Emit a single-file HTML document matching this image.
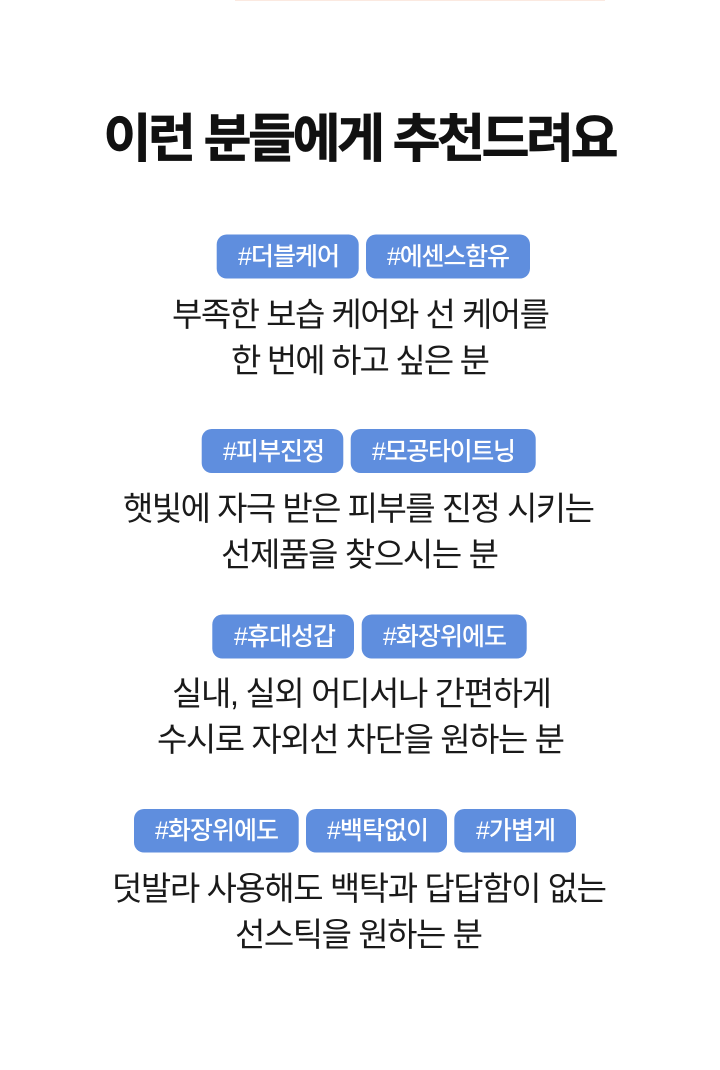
<!DOCTYPE html>
<html lang="ko"><head><meta charset="utf-8">
<style>
html,body{margin:0;padding:0;background:#fff;width:720px;height:1070px;overflow:hidden}
svg{display:block}
text{font-family:"Liberation Sans","Noto Sans CJK KR",sans-serif}
.t{font-size:52px;font-weight:700;fill:#111;stroke:#111;stroke-width:.7px}
.p{font-size:25px;font-weight:500;fill:#fff}
.b{font-size:33px;font-weight:400;fill:#1a1a1a}
rect.r{fill:#5f8ede}
</style></head><body>
<svg width="720" height="1070" viewBox="0 0 720 1070" xmlns="http://www.w3.org/2000/svg">
<rect x="235" y="0" width="370" height="1" fill="#fbe9e0"/>
<text class="t" x="103.500" y="157" textLength="515" lengthAdjust="spacing">이런 분들에게 추천드려요</text>

<rect class="r" x="216.700" y="234.500" width="142" height="44" rx="10"/>
<rect class="r" x="366" y="234.500" width="164" height="44" rx="10"/>
<text class="p" x="238" y="265" textLength="102" lengthAdjust="spacing">#더블케어</text>
<text class="p" x="387" y="265" textLength="123" lengthAdjust="spacing">#에센스함유</text>
<text class="b" x="172" y="326" textLength="378" lengthAdjust="spacing">부족한 보습 케어와 선 케어를</text>
<text class="b" x="231" y="372" textLength="259" lengthAdjust="spacing">한 번에 하고 싶은 분</text>

<rect class="r" x="201.700" y="429" width="141.600" height="44" rx="10"/>
<rect class="r" x="350.700" y="429" width="185" height="44" rx="10"/>
<text class="p" x="223" y="460" textLength="102" lengthAdjust="spacing">#피부진정</text>
<text class="p" x="372" y="460" textLength="144" lengthAdjust="spacing">#모공타이트닝</text>
<text class="b" x="123" y="520" textLength="472" lengthAdjust="spacing">햇빛에 자극 받은 피부를 진정 시키는</text>
<text class="b" x="221" y="566" textLength="278" lengthAdjust="spacing">선제품을 찾으시는 분</text>

<rect class="r" x="212.300" y="614.500" width="141.700" height="44" rx="10"/>
<rect class="r" x="361.700" y="614.500" width="165" height="44" rx="10"/>
<text class="p" x="234" y="645" textLength="102" lengthAdjust="spacing">#휴대성갑</text>
<text class="p" x="383" y="645" textLength="124" lengthAdjust="spacing">#화장위에도</text>
<text class="b" x="172" y="705" textLength="380" lengthAdjust="spacing">실내, 실외 어디서나 간편하게</text>
<text class="b" x="157" y="751" textLength="408" lengthAdjust="spacing">수시로 자외선 차단을 원하는 분</text>

<rect class="r" x="134" y="809" width="164.700" height="43.500" rx="10"/>
<rect class="r" x="306" y="809" width="141" height="43.500" rx="10"/>
<rect class="r" x="454.300" y="809" width="121.700" height="43.500" rx="10"/>
<text class="p" x="155" y="839" textLength="124" lengthAdjust="spacing">#화장위에도</text>
<text class="p" x="327" y="839" textLength="102" lengthAdjust="spacing">#백탁없이</text>
<text class="p" x="476" y="839" textLength="80" lengthAdjust="spacing">#가볍게</text>
<text class="b" x="112" y="900" textLength="495" lengthAdjust="spacing">덧발라 사용해도 백탁과 답답함이 없는</text>
<text class="b" x="235" y="946" textLength="248" lengthAdjust="spacing">선스틱을 원하는 분</text>
</svg>
</body></html>
